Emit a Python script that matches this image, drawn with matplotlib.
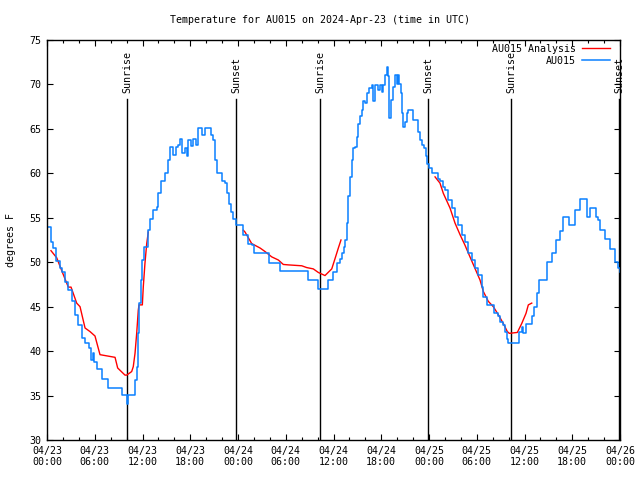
import numpy as np
import matplotlib
matplotlib.use("Agg")
from matplotlib import pyplot as plt
from matplotlib.ticker import MultipleLocator

# hours since 2024-04-23 00:00 UTC, temperature in F
obs_hours = [0.16, 0.50, 0.79, 1.13, 1.63, 1.85, 2.26, 2.68, 3.10, 3.52, 3.93, 4.36, 4.78, 5.28,
             5.53, 5.78, 5.91, 6.25, 6.87, 7.70, 9.39, 9.93, 10.02, 10.12, 10.72, 11.06, 11.27,
             11.40, 11.56, 11.81, 11.98, 12.23, 12.73, 12.94, 13.36, 13.78, 13.99, 14.33, 14.83,
             15.17, 15.46, 15.87, 16.17, 16.50, 16.71, 17.00, 17.34, 17.53, 17.76, 18.10, 18.38,
             18.72, 19.01, 19.44, 19.85, 20.27, 20.61, 20.90, 21.11, 21.32, 21.86, 22.03, 22.37,
             22.58, 22.87, 23.12, 23.41, 23.71, 24.54, 24.67, 25.22, 25.30, 25.80, 26.05, 27.81,
             27.84, 29.07, 29.28, 32.63, 32.76, 33.89, 34.02, 35.15, 35.35, 35.85, 35.98, 36.40,
             36.82, 37.11, 37.36, 37.45, 37.66, 37.86, 38.08, 38.29, 38.49, 38.70, 38.92, 39.12,
             39.33, 39.55, 39.75, 39.96, 40.17, 40.50, 40.80, 41.00, 41.22, 41.51, 41.63, 41.85,
             42.06, 42.26, 42.47, 42.69, 42.81, 43.01, 43.19, 43.44, 43.73, 43.94, 44.15, 44.27,
             44.45, 44.57, 44.77, 44.99, 45.20, 45.40, 45.83, 46.03, 46.53, 46.66, 46.87, 47.08,
             47.37, 47.63, 47.79, 48.04, 48.34, 49.05, 49.17, 49.38, 49.72, 50.01, 50.43, 50.85,
             51.27, 51.68, 52.11, 52.53, 52.94, 53.37, 53.78, 54.20, 54.62, 54.83, 55.25, 56.01,
             56.17, 56.71, 56.92, 57.26, 57.55, 57.84, 57.97, 59.10, 59.35, 59.65, 59.85, 60.19,
             60.69, 60.91, 61.20, 61.54, 61.86, 62.33, 62.83, 63.46, 63.96, 64.46, 64.80, 65.09,
             65.63, 66.35, 66.98, 67.39, 67.89, 68.23, 68.65, 68.99, 69.28, 69.49, 70.12, 70.75,
             71.38, 71.75, 72.00]
obs_temps = [54.0, 52.3, 51.6, 50.1, 49.3, 48.9, 47.8, 46.9, 45.6, 44.1, 42.9, 41.5, 40.9, 40.4,
             39.0, 39.8, 38.8, 38.0, 36.9, 35.9, 35.1, 35.1, 34.1, 35.1, 35.1, 36.75, 38.25,
             42.0, 45.4, 48.0, 50.25, 51.75, 53.6, 54.9, 55.9, 56.25, 57.75, 59.1, 60.0,
             61.5, 63.0, 62.1, 63.0, 63.2, 63.9, 62.25, 62.8, 62.0, 63.75, 63.1, 63.9,
             63.2, 65.1, 64.3, 65.1, 65.1, 64.3, 63.75, 61.5, 60.0, 60.0, 59.1, 58.9,
             57.75, 56.6, 55.7, 54.9, 54.2, 54.2, 53.1, 53.1, 52.1, 51.9, 51.0, 51.0,
             49.95, 49.95, 49.0, 49.0, 48.0, 48.0, 47.0, 47.0, 48.0, 48.0, 48.9, 49.9,
             50.4, 51.0, 51.75, 52.5, 54.4, 57.4, 59.6, 61.5, 62.8, 63.0, 64.1, 65.6,
             66.4, 67.1, 68.1, 67.9, 69.0, 69.55, 69.9, 68.1, 69.9, 69.9, 69.4, 69.9,
             69.2, 69.9, 71.1, 72.0, 70.9, 66.2, 68.25, 69.75, 71.1, 70.1, 71.1, 70.1,
             69.0, 66.75, 65.25, 65.8, 66.75, 67.1, 67.1, 66.0, 66.0, 64.7, 63.75, 63.2,
             62.8, 61.9, 61.1, 60.6, 60.0, 60.0, 59.4, 59.1, 58.5, 58.1, 57.0, 56.1,
             55.1, 54.2, 53.1, 52.3, 51.0, 50.25, 49.3, 48.6, 47.25, 46.1, 45.2, 45.2,
             44.25, 43.9, 43.3, 42.9, 42.2, 41.4, 40.95, 40.95, 42.2, 42.75, 42.0, 43.05,
             43.05, 43.9, 45.0, 46.5, 48.0, 48.0, 50.0, 51.0, 52.5, 53.5, 55.1, 55.1,
             54.2, 55.9, 57.1, 57.1, 55.1, 56.1, 56.1, 55.1, 54.75, 53.6, 52.6, 51.5,
             50.0, 49.3, 48.9]

# analysis runs (three separate pieces)
ana_hours_1 = [0.50, 1.22, 2.05, 2.68, 3.02, 3.73, 4.15, 4.78, 5.40, 6.03, 6.66, 8.55, 8.88,
               9.80, 10.02, 10.64, 10.84, 11.06, 11.27, 11.47, 11.56, 11.98, 12.10, 12.31,
               12.53, 12.73]
ana_temps_1 = [51.3, 50.5, 48.6, 47.2, 47.2, 45.4, 45.0, 42.6, 42.2, 41.7, 39.6, 39.3, 38.1,
               37.3, 37.3, 37.7, 38.25, 39.75, 42.0, 44.6, 45.2, 45.2, 47.25, 49.9, 52.1, 53.4]
ana_hours_2 = [24.67, 24.88, 25.72, 26.14, 26.77, 27.40, 28.24, 29.07, 29.69, 30.32, 32.01,
               32.63, 33.46, 34.09, 34.93, 35.78, 36.19, 36.61, 36.94]
ana_temps_2 = [53.6, 53.4, 52.1, 51.9, 51.6, 51.2, 50.6, 50.25, 49.75, 49.7, 49.6, 49.4,
               49.25, 48.85, 48.5, 49.25, 50.4, 51.6, 52.5]
ana_hours_3 = [48.76, 49.38, 49.80, 50.64, 51.27, 51.90, 52.53, 53.15, 53.78, 54.41, 54.83,
               55.45, 56.08, 56.71, 57.34, 57.84, 58.09, 59.10, 59.65, 60.19, 60.48, 60.91]
ana_temps_3 = [59.6, 58.9, 57.75, 56.1, 54.4, 53.1, 51.9, 50.6, 49.3, 48.0, 46.7, 45.6, 45.0,
               44.1, 43.1, 42.2, 42.0, 42.1, 43.1, 44.25, 45.2, 45.4]

sun_hours = [10.07, 23.75, 34.31, 47.88, 58.31, 71.88]
sun_labels = ["Sunrise", "Sunset", "Sunrise", "Sunset", "Sunrise", "Sunset"]

tick_hours = list(range(0, 73, 6))
tick_labels = ["04/23\n00:00", "04/23\n06:00", "04/23\n12:00", "04/23\n18:00",
               "04/24\n00:00", "04/24\n06:00", "04/24\n12:00", "04/24\n18:00",
               "04/25\n00:00", "04/25\n06:00", "04/25\n12:00", "04/25\n18:00",
               "04/26\n00:00"]

plt.rcParams["font.family"] = ["DejaVu Sans Mono"]
plt.rcParams["font.size"] = 7.2

fig = plt.figure(figsize=(6.4, 4.8), dpi=100)
ax = fig.add_axes([47 / 640, 40 / 480, 573 / 640, 400 / 480])

for h, lab in zip(sun_hours, sun_labels):
    ax.plot([h, h], [30, 68.4], color="black", lw=1)
    ax.text(h, 69.0, lab, rotation=90, ha="center", va="bottom")

ana_parts = [(ana_hours_1, ana_temps_1), (ana_hours_2, ana_temps_2), (ana_hours_3, ana_temps_3)]
for i, (hh, tt) in enumerate(ana_parts):
    ax.plot(hh, tt, color="#ff0000", lw=1, label="AU015 Analysis" if i == 0 else None)
ax.plot(obs_hours, obs_temps, color="#0a80ff", lw=1.1, drawstyle="steps-post", label="AU015")

ax.set_xlim(0, 72)
ax.set_ylim(30, 75)
ax.set_xticks(tick_hours)
ax.set_xticklabels(tick_labels)
ax.xaxis.set_minor_locator(MultipleLocator(2))
ax.yaxis.set_major_locator(MultipleLocator(5))
ax.tick_params(which="both", direction="in", top=True, right=True, width=0.8)
ax.tick_params(which="major", length=4.5, pad=4)
ax.tick_params(which="minor", length=2.5)
for s in ax.spines.values():
    s.set_linewidth(1)

ax.set_ylabel("degrees F", labelpad=10)
fig.text(0.5, 1 - 20 / 480, "Temperature for AU015 on 2024-Apr-23 (time in UTC)",
         ha="center", va="center")

# legend overlaps the last Sunrise label in the original as well
ax.legend(loc="upper right", bbox_to_anchor=(1 - 6 / 573, 1), frameon=False,
          markerfirst=False, handlelength=2.8, borderaxespad=0, labelspacing=0.2,
          handletextpad=0.6)

fig.savefig("out.png", dpi=100)
